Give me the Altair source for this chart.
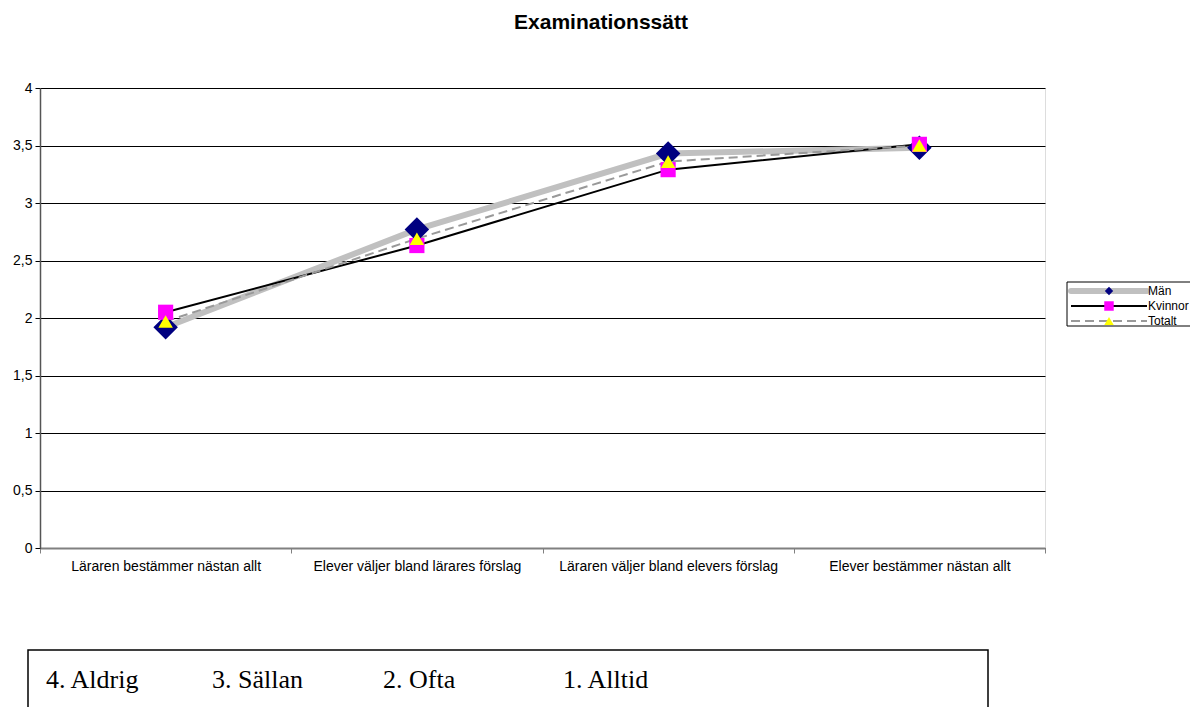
import altair as alt
import pandas as pd

categories = [
    "Läraren bestämmer nästan allt",
    "Elever väljer bland lärares förslag",
    "Läraren väljer bland elevers förslag",
    "Elever bestämmer nästan allt",
]
series = ["Män", "Kvinnor", "Totalt"]
man = [1.92, 2.77, 3.43, 3.48]
kvinnor = [2.05, 2.63, 3.29, 3.51]
totalt = [1.97, 2.69, 3.36, 3.50]
y_ticks = [0, 0.5, 1, 1.5, 2, 2.5, 3, 3.5, 4]
scale_labels = ["4. Aldrig", "3. Sällan", "2. Ofta", "1. Alltid"]
title_text = "Examinationssätt"

rows = []
for s, vals in zip(series, [man, kvinnor, totalt]):
    for c, v in zip(categories, vals):
        rows.append({"kategori": c, "serie": s, "varde": v})
df = pd.DataFrame(rows)

FONT = "Arial, Liberation Sans, sans-serif"
W, H = 1005, 460

x_enc = alt.X(
    "kategori:N", sort=categories,
    scale=alt.Scale(paddingInner=0, paddingOuter=0),
    axis=alt.Axis(title=None, labelAngle=0, tickBand="extent", tickSize=5,
                  tickColor="#808080", domainColor="#808080", domainWidth=2,
                  labelFontSize=14, labelFont=FONT, labelColor="black",
                  labelPadding=6, labelLimit=0, grid=False),
)
y_enc = alt.Y(
    "varde:Q",
    scale=alt.Scale(domain=[0, 4], nice=False, zero=True),
    axis=alt.Axis(title=None, values=y_ticks,
                  labelExpr="replace(toString(datum.value), '.', ',')",
                  grid=True, gridColor="black", gridWidth=1,
                  tickSize=5, tickColor="black", domainColor="#555555",
                  domainWidth=1.5, labelFontSize=14, labelFont=FONT,
                  labelColor="black", labelPadding=3),
)

base = alt.Chart(df).encode(x=x_enc, y=y_enc)

def sub(name):
    return base.transform_filter(alt.datum.serie == name)

man_line = sub("Män").mark_line(color="#C0C0C0", strokeWidth=6)
man_pts = sub("Män").mark_point(shape="diamond", filled=True, color="#000080", size=600, opacity=1)
kv_line = sub("Kvinnor").mark_line(color="black", strokeWidth=2)
kv_pts = sub("Kvinnor").mark_point(shape="square", filled=True, color="#FF00FF", size=230, opacity=1)
to_line = sub("Totalt").mark_line(color="#999999", strokeWidth=2, strokeDash=[9, 5])
to_pts = sub("Totalt").mark_point(shape="triangle-up", filled=True, color="#FFFF00", size=210, opacity=1)

one = pd.DataFrame({"a": [0]})
ann = alt.Chart(one)

# title
title = ann.mark_text(font=FONT, fontSize=21, fontWeight="bold", color="black",
                      align="center", baseline="middle").encode(
    x=alt.value(561), y=alt.value(-65), text=alt.value(title_text))

# legend
leg_box = ann.mark_rect(fill="white", stroke="black", strokeWidth=1).encode(
    x=alt.value(1027), x2=alt.value(1200), y=alt.value(194), y2=alt.value(238))
leg_items = []
leg_y = [203, 218, 233]
line_styles = [
    dict(color="#C0C0C0", strokeWidth=6, strokeCap="round"),
    dict(color="black", strokeWidth=2),
    dict(color="#999999", strokeWidth=2, strokeDash=[9, 5]),
]
marker_styles = [
    dict(shape="diamond", color="#000080", size=70),
    dict(shape="square", color="#FF00FF", size=90),
    dict(shape="triangle-up", color="#FFFF00", size=90),
]
for name, yy, ls, ms in zip(series, leg_y, line_styles, marker_styles):
    leg_items.append(ann.mark_rule(**ls).encode(
        x=alt.value(1031), x2=alt.value(1107), y=alt.value(yy)))
    leg_items.append(ann.mark_point(filled=True, opacity=1, **ms).encode(
        x=alt.value(1069), y=alt.value(yy)))
    leg_items.append(ann.mark_text(font=FONT, fontSize=12, color="black",
                                   align="left", baseline="middle").encode(
        x=alt.value(1108), y=alt.value(yy), text=alt.value(name)))

# bottom scale box
box = ann.mark_rect(fill="white", stroke="black", strokeWidth=1.5).encode(
    x=alt.value(-12), x2=alt.value(948), y=alt.value(562), y2=alt.value(660))
box_texts = []
for lab, xx in zip(scale_labels, [6, 172, 343, 523]):
    box_texts.append(ann.mark_text(font="Liberation Serif, Times New Roman, serif",
                                   fontSize=26, color="black", align="left",
                                   baseline="alphabetic").encode(
        x=alt.value(xx), y=alt.value(600), text=alt.value(lab)))

chart = alt.layer(
    man_line, kv_line, to_line, man_pts, kv_pts, to_pts,
    title, leg_box, *leg_items, box, *box_texts
).properties(
    width=W, height=H,
    autosize=alt.AutoSizeParams(type="none"),
    padding={"left": 32, "top": 80, "right": 145, "bottom": 159},
).configure_view(
    stroke="#808080", strokeWidth=1.5
).configure(background="white")

chart.save("out.html", embed_options={"renderer": "svg", "actions": False})
